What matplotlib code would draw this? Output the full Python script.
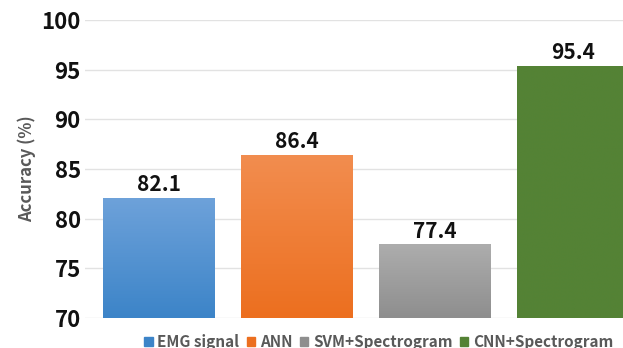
import numpy as np
import matplotlib.pyplot as plt
from matplotlib.colors import LinearSegmentedColormap

plt.rcParams['font.family'] = ['Noto Sans CJK KR', 'DejaVu Sans']
plt.rcParams['font.weight'] = 'bold'

# Classification accuracy per method
methods = ['EMG signal', 'ANN', 'SVM+Spectrogram', 'CNN+Spectrogram']
accuracy = [82.1, 86.4, 77.4, 95.4]
# top / bottom shade of each bar
top_colors = ['#6ea2da', '#f28d4f', '#adadad', '#548235']
bottom_colors = ['#3c84c8', '#ec6f1f', '#8e8e8e', '#548235']
yticks = [70, 75, 80, 85, 90, 95, 100]

fig = plt.figure(figsize=(6.23, 3.48), dpi=100)
ax = fig.add_axes([85 / 623, 30 / 348, 562 / 623, 298 / 348])

x = np.arange(len(methods))
bars = ax.bar(x, accuracy, width=0.81, bottom=0, color=bottom_colors,
              edgecolor='none', zorder=2, label=None)

# vertical gradient inside each bar
grad = np.linspace(1, 0, 256).reshape(-1, 1)
for b, c_top, c_bot in zip(bars, top_colors, bottom_colors):
    cmap = LinearSegmentedColormap.from_list('g', [c_bot, c_top])
    x0 = b.get_x()
    x1 = x0 + b.get_width()
    im = ax.imshow(grad, cmap=cmap, aspect='auto', extent=[x0, x1, 70, b.get_height()],
                   zorder=3, interpolation='bilinear')
    im.set_clip_path(b)

for xi, v in zip(x, accuracy):
    ax.annotate(f'{v}', (xi, v), xytext=(0, 2), textcoords='offset points',
                ha='center', va='bottom', fontsize=15, fontweight='bold', color='#111111')

ax.set_xlim(-0.536, 3.536)
ax.set_ylim(70, 100)
ax.set_yticks(yticks)
ax.set_yticklabels([str(t) for t in yticks], fontsize=16, fontweight='bold')
ax.set_xticks([])
ax.tick_params(axis='y', length=0, pad=3, colors='#111111')
ax.grid(axis='y', color='#e2e2e2', linewidth=1, zorder=0)
for s in ax.spines.values():
    s.set_visible(False)
ax.set_ylabel('Accuracy (%)', fontsize=12, fontweight='bold', color='#595959', labelpad=4)

handles = [plt.Rectangle((0, 0), 1, 1, color=c) for c in bottom_colors]
fig.legend(handles, methods, loc='lower left', bbox_to_anchor=(138 / 623, -0.022),
           ncol=4, frameon=False, handlelength=0.55, handleheight=0.55,
           handletextpad=0.3, columnspacing=0.5, borderaxespad=0,
           labelcolor='#595959', prop={'weight': 'bold', 'size': 11})

fig.savefig('out.png', dpi=100)
